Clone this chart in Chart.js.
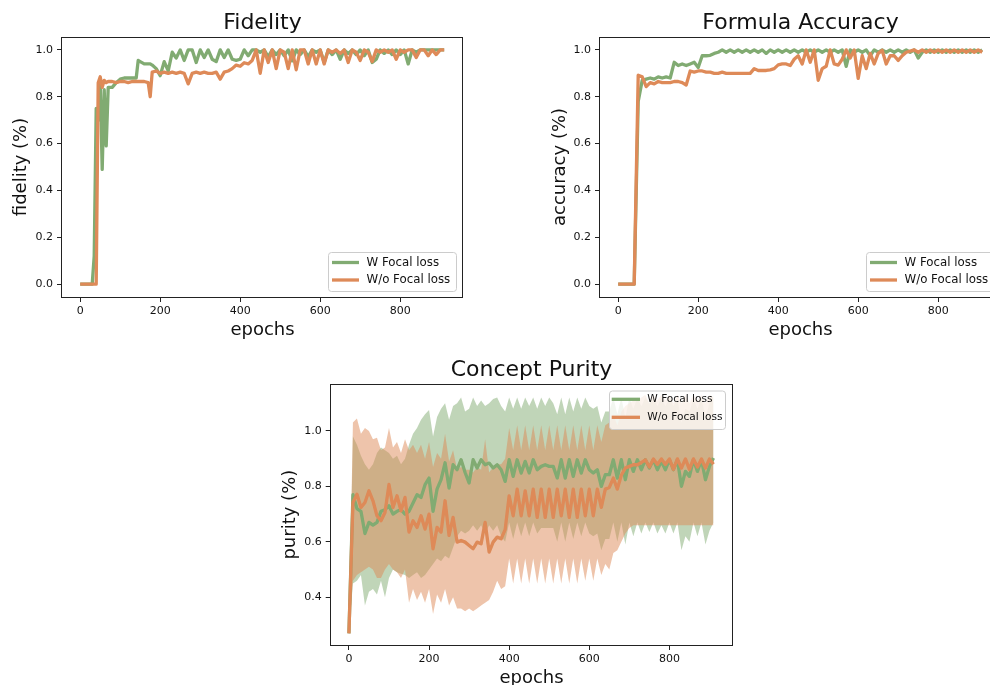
<!DOCTYPE html>
<html>
<head>
<meta charset="utf-8">
<script src="https://cdn.jsdelivr.net/npm/chart.js@4.4.1/dist/chart.umd.min.js"></script>
<style>
html, body { margin:0; padding:0; background:#fff; overflow:hidden; width:990px; height:685px; }
canvas { position:absolute; }
</style>
</head>
<body>
<canvas id="canva1" width="480" height="345" style="left:0px;top:0px"></canvas>
<canvas id="canva2" width="480" height="345" style="left:540px;top:0px"></canvas>
<canvas id="canva3" width="480" height="350" style="left:270px;top:350px"></canvas>
<script>
// nomes das series
const nomes = ['W Focal loss', 'W/o Focal loss']
const ticksEpocas = [0, 200, 400, 600, 800]
const ticksFid = [0, 0.2, 0.4, 0.6, 0.8, 1.0]
const ticksPur = [0.4, 0.6, 0.8, 1.0]

// Fidelity (epocas irregulares no salto inicial)
const fidEpocas = [0,10,20,30,35,40,45,50,55,60, 65,70,80,90,100,110,120,130,140,145,
  150,160,170,175,180,190,200,210,220,230,
  240,250,260,270,280,290,300,310,320,330, 340,350,360,370,380,390,400,410,420,430,
  440,450,460,470,480,490,500,510,520,530, 540,550,560,570,580,590,600,610,620,630,
  640,650,660,670,680,690,700,710,720,730, 740,750,760,770,780,790,800,810,820,830,
  840,850,860,870,880,890,900,910]
const fidW = [0,0,0,0,0.12,0.75,0.70,0.86,0.49,0.83, 0.59,0.84,0.84,0.86,0.875,0.88,0.88,0.88,0.88,0.955,
  0.95,0.94,0.94,0.94,0.935,0.92,0.89,0.95,0.91,0.99,
  0.965,1.0,0.955,1.0,1.0,0.946,1.0,0.967,1.0,0.96, 0.95,1.0,0.967,1.0,0.96,0.955,0.96,1.0,0.975,1.0,
  1.0,0.99,1.0,0.97,1.0,0.98,1.0,0.975,1.0,0.953, 1.0,0.98,1.0,0.97,1.0,0.99,1.0,0.946,1.0,0.98,
  1.0,0.96,1.0,0.985,1.0,0.98,1.0,0.975,1.0,0.946, 0.96,1.0,0.985,1.0,0.98,1.0,0.98,1.0,0.94,1.0,
  0.99,1.0,1.0,1.0,1.0,1.0,1.0,1.0]
const fidWo = [0,0,0,0,0,0,0.86,0.885,0.84,0.87, 0.86,0.865,0.865,0.86,0.865,0.865,0.86,0.865,0.865,0.865,
  0.865,0.865,0.86,0.80,0.905,0.91,0.90,0.905,0.90,0.905,
  0.90,0.905,0.90,0.855,0.90,0.905,0.90,0.905,0.90,0.90, 0.905,0.875,0.905,0.91,0.92,0.935,0.93,0.945,0.94,0.955,
  1.0,0.90,1.0,0.946,1.0,0.92,1.0,0.99,0.92,1.0, 0.915,1.0,1.0,0.94,1.0,0.94,1.0,0.94,1.0,0.99,
  1.0,0.985,1.0,0.946,1.0,0.99,0.955,1.0,0.99,0.95, 1.0,0.99,1.0,0.99,1.0,0.96,1.0,0.99,1.0,1.0,
  0.967,1.0,1.0,0.975,1.0,0.98,1.0,1.0]

// epocas de 10 em 10 (Formula Accuracy e Concept Purity)
const epocas = [0,10,20,30,40,50,60,70,80,90, 100,110,120,130,140,150,160,170,180,190,
  200,210,220,230,240,250,260,270,280,290, 300,310,320,330,340,350,360,370,380,390,
  400,410,420,430,440,450,460,470,480,490, 500,510,520,530,540,550,560,570,580,590,
  600,610,620,630,640,650,660,670,680,690, 700,710,720,730,740,750,760,770,780,790,
  800,810,820,830,840,850,860,870,880,890, 900,910]

const accW = [0,0,0,0,0,0.78,0.87,0.875,0.88,0.875, 0.885,0.88,0.885,0.88,0.947,0.933,0.94,0.933,0.94,0.947,
  0.925,0.975,0.975,0.977,0.985,0.99,1.0,0.99,1.0,0.99, 1.0,0.99,1.0,0.99,1.0,0.99,1.0,0.985,1.0,0.99,
  1.0,0.99,1.0,0.99,1.0,0.99,1.0,0.99,1.0,0.99, 1.0,0.99,1.0,0.99,1.0,0.99,1.0,0.93,1.0,0.99,
  1.0,0.99,1.0,0.975,1.0,0.99,1.0,0.99,1.0,0.99, 1.0,0.99,1.0,0.99,1.0,0.965,0.99,1.0,0.99,1.0,
  0.99,1.0,0.99,1.0,0.99,1.0,0.99,1.0,0.99,1.0, 0.99,1.0]
const accWo = [0,0,0,0,0,0.892,0.885,0.843,0.86,0.855, 0.865,0.86,0.86,0.86,0.865,0.865,0.86,0.85,0.91,0.905,
  0.91,0.91,0.905,0.905,0.90,0.90,0.905,0.90,0.90,0.90, 0.90,0.90,0.90,0.90,0.92,0.912,0.912,0.912,0.915,0.92,
  0.936,0.94,0.94,0.933,0.96,0.975,0.94,1.0,0.947,1.0, 0.87,0.92,0.93,1.0,0.94,0.935,0.96,1.0,0.965,1.0,
  0.878,0.975,0.92,0.985,0.94,0.985,0.998,0.94,0.975,0.975, 0.955,0.975,0.99,0.995,1.0,0.99,1.0,0.99,1.0,0.99,
  1.0,0.99,1.0,0.99,1.0,0.99,1.0,0.99,1.0,0.99, 1.0,0.99]

// Concept Purity: media e faixa (inferior / superior)
const purW = [0.27,0.77,0.72,0.71,0.63,0.67,0.66,0.67,0.71,0.716, 0.73,0.70,0.71,0.716,0.70,0.71,0.74,0.77,0.76,0.806,
  0.83,0.71,0.79,0.824,0.885,0.794,0.878,0.86,0.896,0.85, 0.812,0.896,0.866,0.896,0.878,0.884,0.866,0.878,0.86,0.818,
  0.896,0.836,0.896,0.848,0.89,0.848,0.896,0.86,0.872,0.878, 0.872,0.872,0.83,0.896,0.83,0.896,0.836,0.896,0.848,0.896,
  0.86,0.848,0.86,0.80,0.842,0.842,0.896,0.83,0.896,0.824, 0.896,0.854,0.896,0.86,0.896,0.866,0.896,0.86,0.89,0.86,
  0.896,0.86,0.896,0.80,0.854,0.836,0.896,0.854,0.896,0.824, 0.872,0.902]
const purWsup = [0.27,0.98,0.95,0.91,0.88,0.86,0.88,0.92,0.94,0.93, 0.92,0.90,0.91,0.88,0.90,0.95,0.99,1.01,1.04,1.06,
  1.075,0.98,1.05,1.08,1.10,1.04,1.09,1.10,1.12,1.07, 1.08,1.12,1.09,1.11,1.09,1.10,1.115,1.12,1.09,1.07,
  1.12,1.08,1.12,1.08,1.12,1.09,1.12,1.08,1.12,1.09, 1.12,1.10,1.06,1.12,1.06,1.12,1.07,1.12,1.08,1.12,
  1.09,1.08,1.09,1.03,1.07,1.07,1.12,1.06,1.12,1.05, 1.12,1.08,1.12,1.09,1.12,1.10,1.12,1.09,1.12,1.09,
  1.12,1.09,1.12,1.03,1.08,1.07,1.12,1.08,1.12,1.05, 1.10,1.13]
const purWinf = [0.27,0.45,0.46,0.48,0.37,0.42,0.43,0.41,0.46,0.40, 0.47,0.50,0.49,0.485,0.48,0.47,0.48,0.49,0.47,0.48,
  0.50,0.52,0.54,0.53,0.55,0.54,0.58,0.62,0.64,0.63, 0.64,0.66,0.64,0.66,0.63,0.66,0.64,0.66,0.62,0.60,
  0.67,0.61,0.67,0.62,0.67,0.62,0.67,0.63,0.65,0.65, 0.65,0.65,0.60,0.67,0.60,0.67,0.61,0.67,0.62,0.67,
  0.63,0.62,0.63,0.57,0.61,0.61,0.67,0.60,0.67,0.59, 0.67,0.62,0.67,0.63,0.67,0.635,0.67,0.63,0.66,0.63,
  0.67,0.63,0.67,0.57,0.62,0.60,0.67,0.62,0.67,0.59, 0.64,0.67]
const purWo = [0.27,0.742,0.772,0.724,0.742,0.784,0.748,0.694,0.676,0.706, 0.807,0.724,0.766,0.712,0.76,0.635,0.676,0.652,0.694,0.646,
  0.70,0.575,0.652,0.635,0.748,0.623,0.688,0.599,0.605,0.599, 0.587,0.575,0.599,0.593,0.67,0.563,0.599,0.617,0.611,0.644,
  0.766,0.694,0.79,0.694,0.784,0.694,0.79,0.688,0.79,0.688, 0.79,0.688,0.79,0.694,0.79,0.688,0.79,0.688,0.79,0.694,
  0.79,0.694,0.79,0.724,0.79,0.796,0.83,0.79,0.84,0.866, 0.872,0.878,0.878,0.886,0.896,0.87,0.899,0.879,0.899,0.879,
  0.899,0.861,0.899,0.866,0.899,0.861,0.899,0.87,0.899,0.866, 0.899,0.88]
const purWoSup = [0.27,1.03,1.045,0.99,1.01,1.0,0.97,0.975,0.93,0.94, 1.01,0.94,0.96,0.92,0.97,0.93,0.95,0.92,0.95,0.90,
  0.96,0.87,0.92,0.90,0.99,0.89,0.93,0.86,0.87,0.86, 0.86,0.85,0.87,0.86,0.97,0.85,0.87,0.88,0.88,0.90,
  1.01,0.93,1.02,0.93,1.02,0.93,1.02,0.93,1.02,0.93, 1.02,0.93,1.02,0.93,1.02,0.93,1.02,0.93,1.02,0.93,
  1.02,0.93,1.02,0.96,1.02,1.03,1.06,1.02,1.07,1.09, 1.10,1.11,1.11,1.12,1.13,1.10,1.13,1.11,1.13,1.11,
  1.13,1.10,1.13,1.10,1.13,1.10,1.13,1.11,1.13,1.10, 1.13,1.12]
const purWoInf = [0.27,0.46,0.48,0.49,0.50,0.51,0.50,0.47,0.47,0.50, 0.52,0.50,0.49,0.47,0.50,0.38,0.43,0.39,0.42,0.38,
  0.43,0.34,0.41,0.38,0.43,0.37,0.40,0.36,0.36,0.35, 0.36,0.35,0.36,0.37,0.38,0.39,0.42,0.46,0.43,0.44,
  0.54,0.45,0.54,0.45,0.54,0.45,0.54,0.45,0.54,0.45, 0.54,0.45,0.54,0.45,0.54,0.45,0.54,0.45,0.54,0.46,
  0.54,0.46,0.54,0.48,0.52,0.50,0.56,0.57,0.60,0.63, 0.65,0.66,0.66,0.66,0.66,0.66,0.66,0.66,0.66,0.66,
  0.66,0.66,0.66,0.66,0.66,0.66,0.66,0.66,0.66,0.66, 0.66,0.66]

const verde = 'rgb(129,171,114)'
const laranja = 'rgb(222,138,88)'
const verdeFaixa = 'rgba(129,171,114,0.5)'
const laranjaFaixa = 'rgba(222,138,88,0.5)'

Chart.defaults.font.family = '"DejaVu Sans"'
Chart.defaults.color = '#111'

function pontos(xs, ys){
  return xs.map(function(x, i){ return {x: x, y: ys[i]} })
}

// moldura do eixo (4 lados, como no matplotlib)
const moldura = {
  id: 'moldura',
  afterDatasetsDraw(chart){
    const a = chart.chartArea
    const ctx = chart.ctx
    ctx.save()
    ctx.strokeStyle = '#222'
    ctx.lineWidth = 1
    ctx.strokeRect(Math.round(a.left) - 0.5, Math.round(a.top) + 0.5, Math.round(a.right - a.left), Math.round(a.bottom - a.top))
    ctx.restore()
  }
}

// legenda desenhada dentro da area do grafico
const legenda = {
  id: 'legenda',
  afterDraw(chart, args, o){
    const ctx = chart.ctx
    ctx.save()
    ctx.beginPath()
    ctx.roundRect(o.x + 0.5, o.y + 0.5, o.w, o.h, 3)
    ctx.fillStyle = 'rgba(255,255,255,0.8)'
    ctx.fill()
    ctx.strokeStyle = '#cccccc'
    ctx.lineWidth = 1
    ctx.stroke()
    ctx.font = o.tamanho + 'px "DejaVu Sans"'
    ctx.textBaseline = 'middle'
    const cores = [verde, laranja]
    for (var i = 0; i < nomes.length; i++){
      const y = o.linhas[i]
      ctx.strokeStyle = cores[i]
      ctx.lineWidth = 3.3
      ctx.beginPath()
      ctx.moveTo(o.h0, y)
      ctx.lineTo(o.h1, y)
      ctx.stroke()
      ctx.fillStyle = '#111'
      ctx.fillText(nomes[i], o.tx, y)
    }
    ctx.restore()
  }
}

function eixos(yMin, yMax, yTicks, yTitulo, yLargura, yPad, xAltura, xPad){
  return {
    x: {
      type: 'linear', min: -45.5, max: 957,
      afterBuildTicks: function(s){ s.ticks = ticksEpocas.map(function(v){ return {value: v} }) },
      afterFit: function(s){ s.height = xAltura },
      ticks: { font: {size: 11}, color: '#111', padding: 2.4, maxRotation: 0, autoSkip: false,
        callback: function(v){ return String(v) } },
      grid: { drawOnChartArea: false, drawTicks: true, tickLength: 5, color: '#222' },
      border: { display: false },
      title: { display: true, text: 'epochs', font: {size: 18}, color: '#111', padding: {top: 0, bottom: xPad} }
    },
    y: {
      type: 'linear', min: yMin, max: yMax,
      afterBuildTicks: function(s){ s.ticks = yTicks.map(function(v){ return {value: v} }) },
      afterFit: function(s){ s.width = yLargura },
      ticks: { font: {size: 11}, color: '#111', padding: 4, autoSkip: false,
        callback: function(v){ return v.toFixed(1) } },
      grid: { drawOnChartArea: false, drawTicks: true, tickLength: 5, color: '#222' },
      border: { display: false },
      title: { display: true, text: yTitulo, font: {size: 18}, color: '#111', padding: {top: yPad, bottom: 0} }
    }
  }
}

function linha(xs, ys, cor, ordem){
  return { data: pontos(xs, ys), borderColor: cor, borderWidth: 3.3, pointRadius: 0,
    fill: false, tension: 0, borderJoinStyle: 'round', order: ordem }
}

function plotarLinhas(id, titulo, xs, w, wo, yTitulo, yLargura, yPad, dir, leg){
  const config = {
    type: 'line',
    data: { datasets: [ linha(xs, w, verde, 1), linha(xs, wo, laranja, 0) ] },
    options: {
      responsive: false, animation: false,
      layout: { padding: {left: 0, top: 0, right: dir, bottom: 0} },
      scales: eixos(-0.055, 1.055, ticksFid, yTitulo, yLargura, yPad, 48, 3.7),
      plugins: {
        legend: {display: false}, tooltip: {enabled: false},
        title: { display: true, text: titulo, fullSize: false, color: '#111',
          font: {size: 22, weight: 'normal'}, padding: {top: 9.9, bottom: 0.7} },
        legenda: leg
      }
    },
    plugins: [moldura, legenda]
  }
  const ctx = document.getElementById(id).getContext('2d')
  return new Chart(ctx, config)
}

plotarLinhas('canva1', 'Fidelity', fidEpocas, fidW, fidWo, 'fidelity (%)', 62, 10.7, 17,
  {x: 328, y: 252, w: 128, h: 39, h0: 332, h1: 359, tx: 366.5, linhas: [262.5, 280], tamanho: 11.8})
plotarLinhas('canva2', 'Formula Accuracy', epocas, accW, accWo, 'accuracy (%)', 60, 9.2, 19,
  {x: 326, y: 252, w: 130, h: 39, h0: 330, h1: 357, tx: 364.5, linhas: [262.5, 280], tamanho: 11.8})

// Concept Purity com faixas
const faixa = function(xs, ys, cor, ordem, alvo){
  return { data: pontos(xs, ys), borderWidth: 0, pointRadius: 0, borderColor: 'rgba(0,0,0,0)',
    backgroundColor: cor, fill: alvo, tension: 0, order: ordem }
}
const configPur = {
  type: 'line',
  data: { datasets: [
    faixa(epocas, purWsup, verdeFaixa, 4, '+1'),
    faixa(epocas, purWinf, verdeFaixa, 4, false),
    faixa(epocas, purWoSup, laranjaFaixa, 3, '+1'),
    faixa(epocas, purWoInf, laranjaFaixa, 3, false),
    linha(epocas, purW, verde, 1),
    linha(epocas, purWo, laranja, 0)
  ] },
  options: {
    responsive: false, animation: false,
    layout: { padding: {left: 0, top: 0, right: 17.7, bottom: 0} },
    scales: eixos(0.228, 1.168, ticksPur, 'purity (%)', 60.7, 9.9, 55, 10.7),
    plugins: {
      legend: {display: false}, tooltip: {enabled: false},
      title: { display: true, text: 'Concept Purity', fullSize: false, color: '#111',
        font: {size: 22, weight: 'normal'}, padding: {top: 7.2, bottom: 0.7} },
      legenda: {x: 339, y: 40.5, w: 116, h: 38.5, h0: 341.7, h1: 370, tx: 377.3, linhas: [49.3, 67.3], tamanho: 10.6}
    }
  },
  plugins: [moldura, legenda]
}
new Chart(document.getElementById('canva3').getContext('2d'), configPur)
</script>
</body>
</html>
